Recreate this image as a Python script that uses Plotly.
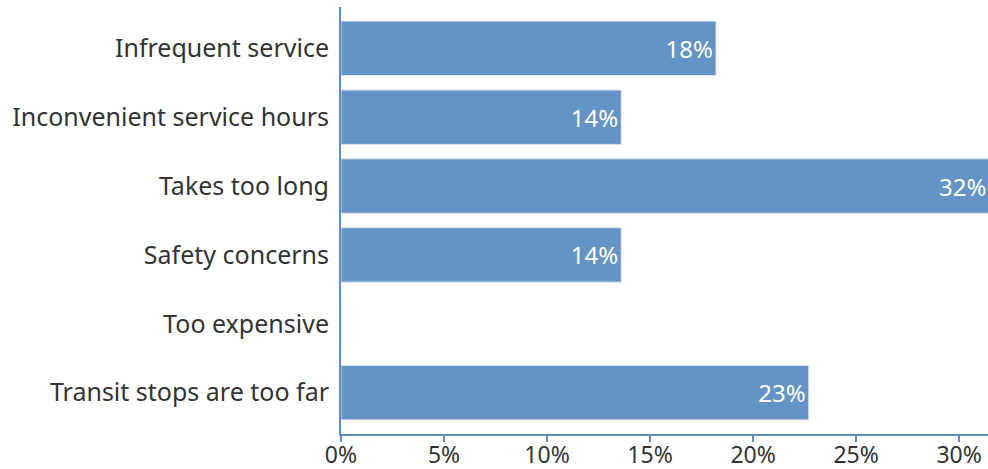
import plotly.graph_objects as go

categories = ["Infrequent service", "Inconvenient service hours", "Takes too long",
              "Safety concerns", "Too expensive", "Transit stops are too far"]
values = [18.2, 13.6, 31.8, 13.6, 0.0, 22.7]
tick_vals = [0, 5, 10, 15, 20, 25, 30]
tick_text = ["0%", "5%", "10%", "15%", "20%", "25%", "30%"]
x_max = 31.4

labels = [f"{v:.0f}%" if 0 < v <= x_max else "" for v in values]

BAR = "#6394c5"
AXIS = "#5b8ec4"
FONT = "'Noto Sans', 'Source Sans Pro', sans-serif"
TXT = "#333333"

fig = go.Figure(go.Bar(
    x=values, y=categories, orientation="h",
    marker=dict(color=BAR, line=dict(color="#dde6f0", width=1)),
    text=labels, textposition="inside", insidetextanchor="end",
    textfont=dict(color="white", size=24, family=FONT),
    cliponaxis=True,
))

# labels for bars that run past the visible range
for c, v in zip(categories, values):
    if v > x_max:
        fig.add_annotation(x=x_max, y=c, text=f"{v:.0f}%", showarrow=False,
                           xanchor="right", xshift=0,
                           font=dict(color="white", size=24, family=FONT))

fig.update_layout(
    width=988, height=469,
    margin=dict(l=341, r=0, t=7, b=35),
    plot_bgcolor="white", paper_bgcolor="white",
    bargap=0.21,
    showlegend=False,
    font=dict(family=FONT, color=TXT),
)
fig.update_xaxes(
    range=[0, x_max], tickmode="array", tickvals=tick_vals, ticktext=tick_text,
    automargin=False,
    showgrid=False, zeroline=False,
    showline=True, linecolor=AXIS, linewidth=2,
    ticks="outside", ticklen=6, tickcolor=AXIS, tickwidth=2,
    ticklabelstandoff=-7,
    tickfont=dict(size=23, color=TXT, family=FONT),
)
fig.update_yaxes(
    range=[5.6, -0.6], showgrid=False, zeroline=False, automargin=False,
    showline=True, linecolor=AXIS, linewidth=2,
    ticks="", ticklabelstandoff=5,
    tickfont=dict(size=25, color=TXT, family=FONT),
)

fig.write_html("out.html", config={"displayModeBar": False},
               post_script="document.body.style.margin='0';document.body.style.overflow='hidden';")
